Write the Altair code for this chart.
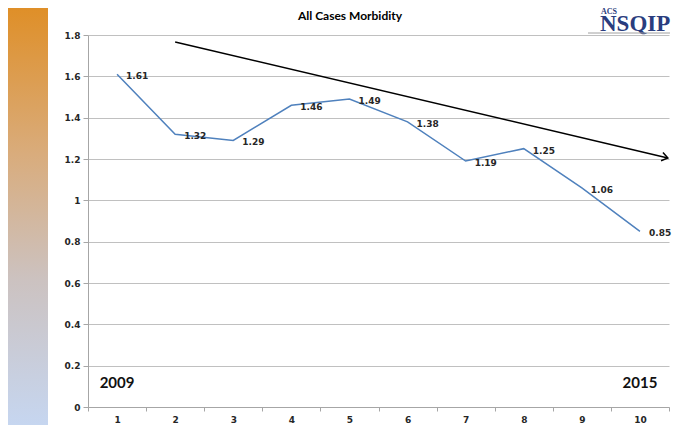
import math
import altair as alt
import pandas as pd

# ---- data ----
periods = list(range(1, 11))
morbidity = [1.61, 1.32, 1.29, 1.46, 1.49, 1.38, 1.19, 1.25, 1.06, 0.85]
y_ticks = [0, 0.2, 0.4, 0.6, 0.8, 1.0, 1.2, 1.4, 1.6, 1.8]
x_tick_edges = [0.5 + i for i in range(11)]
trend_x = [2, 10.48]
trend_y = [1.766, 1.205]
year_labels = ["2009", "2015"]
year_x = [1, 10]
year_y = [0.116, 0.116]
title_text = "All Cases Morbidity"

# ---- layout ----
W, H = 581, 372
PAD = {"left": 80, "top": 27, "right": 8, "bottom": 18}
XDOM = [0.5, 10.5]
YDOM = [0, 1.8]

df = pd.DataFrame({"x": periods, "y": morbidity})
trend = pd.DataFrame({"x": trend_x, "y": trend_y})
tip = pd.DataFrame({"x": [trend_x[-1]], "y": [trend_y[-1]]})
years = pd.DataFrame({"x": year_x, "y": year_y, "t": year_labels})
one = pd.DataFrame({"a": [0]})

xpx = W / (XDOM[1] - XDOM[0])
ypx = H / (YDOM[1] - YDOM[0])
angle = math.degrees(math.atan2((trend_y[0] - trend_y[1]) * ypx, (trend_x[1] - trend_x[0]) * xpx))

xscale = alt.Scale(domain=XDOM, nice=False, zero=False)
yscale = alt.Scale(domain=YDOM, nice=False, zero=False)

x_axis = alt.Axis(
    values=x_tick_edges, grid=False, title=None, tickSize=4, labelPadding=4,
    labelExpr="datum.value < 10 ? format(datum.value + 0.5, 'd') : ''",
    labelOffset=xpx / 2, labelFlush=False, labelOverlap=False, labelBound=False,
)
y_axis = alt.Axis(
    values=y_ticks, format=".1~f", grid=True, title=None, tickSize=5, labelPadding=3,
)

line = alt.Chart(df).mark_line(color="#4F81BD", strokeWidth=1.5).encode(
    x=alt.X("x:Q", scale=xscale, axis=x_axis),
    y=alt.Y("y:Q", scale=yscale, axis=y_axis),
)

labels = alt.Chart(df).mark_text(
    align="left", baseline="middle", dx=9, dy=2, font="DejaVu Sans",
    fontWeight="bold", fontSize=9, color="#262626",
).encode(x="x:Q", y="y:Q", text=alt.Text("y:Q", format=".2f"))

trend_line = alt.Chart(trend).mark_line(color="black", strokeWidth=1.5).encode(
    x="x:Q", y="y:Q"
)
arrow_head = alt.Chart(tip).mark_point(
    shape="M-1,-0.7L0,0L-1,0.7", filled=False, stroke="black", strokeWidth=1.5,
    size=144, angle=angle, opacity=1,
).encode(x="x:Q", y="y:Q")

year_text = alt.Chart(years).mark_text(
    align="center", baseline="middle", font="Lato", fontWeight="bold",
    fontSize=15, color="#111111",
).encode(x="x:Q", y="y:Q", text="t:N")

# ---- decorations ----
gradient = alt.Chart(one).mark_rect(
    color=alt.Gradient(
        gradient="linear", x1=0, x2=0, y1=0, y2=1,
        stops=[
            alt.GradientStop(color="#DF8F28", offset=0),
            alt.GradientStop(color="#D9AC7C", offset=0.35),
            alt.GradientStop(color="#CCC2C0", offset=0.65),
            alt.GradientStop(color="#C6D6F0", offset=1),
        ],
    )
).encode(
    x=alt.value(-PAD["left"]), x2=alt.value(-40),
    y=alt.value(-PAD["top"]), y2=alt.value(H + PAD["bottom"]),
)

title = alt.Chart(one).mark_text(
    text=title_text, align="center", baseline="middle", font="Lato",
    fontWeight="bold", fontSize=12, color="#000000",
).encode(x=alt.value(262), y=alt.value(-19))

logo_acs = alt.Chart(one).mark_text(
    text="ACS", align="left", baseline="alphabetic", font="Liberation Serif",
    fontSize=8, fontWeight="bold", color="#2A3D7E",
).encode(x=alt.value(513), y=alt.value(-21))
logo_main = alt.Chart(one).mark_text(
    text="NSQIP", align="left", baseline="alphabetic", font="Liberation Serif",
    fontSize=23, fontWeight="bold", color="#2A3D7E",
).encode(x=alt.value(512), y=alt.value(-4))
logo_rule = alt.Chart(one).mark_rule(color="#A0A0A0", strokeWidth=1).encode(
    x=alt.value(500), x2=alt.value(582), y=alt.value(-2)
)

chart = alt.layer(
    gradient, line, labels, trend_line, arrow_head, year_text,
    title, logo_acs, logo_main, logo_rule,
).properties(
    width=W, height=H, padding=PAD,
    autosize=alt.AutoSizeParams(type="none"),
).configure_view(stroke=None).configure_axis(
    domainColor="#A6A6A6", tickColor="#A6A6A6", gridColor="#C0C0C0",
    labelFont="DejaVu Sans", labelFontWeight="bold", labelFontSize=9,
    labelColor="#262626",
)

chart.save("out.html", embed_options={"renderer": "svg", "actions": False})
